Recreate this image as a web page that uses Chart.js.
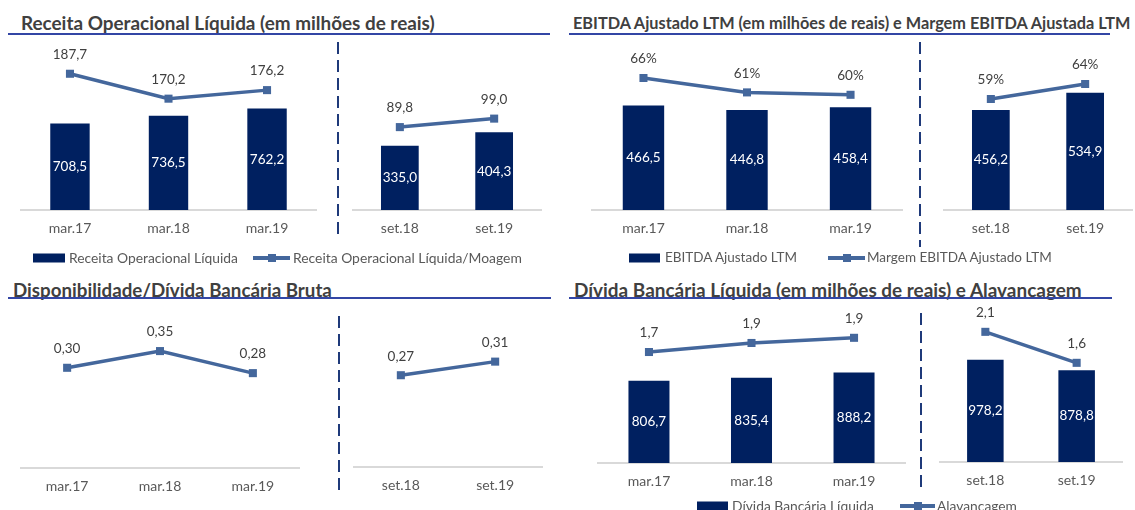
<!DOCTYPE html>
<html lang="pt-BR">
<head>
<meta charset="utf-8">
<title>Indicadores</title>
<script src="https://cdn.jsdelivr.net/npm/chart.js@4.4.1/dist/chart.umd.min.js"></script>
<style>
  html, body { margin: 0; padding: 0; }
  body { width: 1135px; height: 510px; overflow: hidden; background: #fff; position: relative; font-family: Lato, 'Open Sans', sans-serif; }
  .titulo { position: absolute; font-weight: 700; font-size: 19px; line-height: 1; color: #404040; white-space: nowrap; transform: translateY(-50%); }
  .regua { position: absolute; height: 2px; background: #3346a5; }
  .tracejado { position: absolute; width: 2px; background: repeating-linear-gradient(to bottom, #1f3a7a 0 12px, transparent 12px 18px); }
  canvas { position: absolute; }
  .leg { position: absolute; font-size: 14px; line-height: 1; color: #595959; white-space: nowrap; transform: translateY(-50%); }
  .sw { position: absolute; height: 9px; background: #002060; transform: translateY(-50%); }
  .ln { position: absolute; height: 4px; background: #44679c; transform: translateY(-50%); }
  .ln::after { content: ''; position: absolute; left: 50%; top: 50%; width: 8px; height: 8px; margin: -4px 0 0 -4px; background: #44679c; }
</style>
</head>
<body>
<script>
// categorias
const catsMar = ['mar.17', 'mar.18', 'mar.19'];
const catsSet = ['set.18', 'set.19'];

// Receita Operacional Líquida (R$ milhões) e Receita/Moagem
const receitaMar = [708.5, 736.5, 762.2];
const receitaSet = [335.0, 404.3];
const moagemMar = [187.7, 170.2, 176.2];
const moagemSet = [89.8, 99.0];

// EBITDA Ajustado LTM e margem
const ebitdaMar = [466.5, 446.8, 458.4];
const ebitdaSet = [456.2, 534.9];
const margemMar = [0.66, 0.612, 0.604];
const margemSet = [0.59, 0.64];

// Disponibilidade / Dívida Bancária Bruta
const dispMar = [0.30, 0.35, 0.284];
const dispSet = [0.27, 0.31];

// Dívida Bancária Líquida e Alavancagem
const dividaMar = [806.7, 835.4, 888.2];
const dividaSet = [978.2, 878.8];
const alavMar = [1.72, 1.86, 1.94];
const alavSet = [2.1, 1.6];

const titulos = [
  'Receita Operacional Líquida (em milhões de reais)',
  'EBITDA Ajustado LTM (em milhões de reais) e Margem EBITDA Ajustada LTM',
  'Disponibilidade/Dívida Bancária Bruta',
  'Dívida Bancária Líquida (em milhões de reais) e Alavancagem'
];
const nomesReceita = ['Receita Operacional Líquida', 'Receita Operacional Líquida/Moagem'];
const nomesEbitda = ['EBITDA Ajustado LTM', 'Margem EBITDA Ajustado LTM'];
const nomesDisp = ['', 'Disponibilidade/Dívida Bancária Bruta'];
const nomesDivida = ['Dívida Bancária Líquida', 'Alavancagem'];

const AZUL_BARRA = '#002060';
const AZUL_LINHA = '#44679c';
const PAD = 24, EIXO = 40;

const dec1 = v => v.toFixed(1).replace('.', ',');
const dec2 = v => v.toFixed(2).replace('.', ',');
const pct = v => Math.round(v * 100) + '%';

Chart.defaults.font.family = 'Lato';

// rótulos de dados (barras no meio, linha acima do marcador)
const rotulos = {
  id: 'rotulos',
  afterDatasetsDraw(chart) {
    const ctx = chart.ctx;
    const fundo = chart.chartArea.bottom;
    ctx.save();
    ctx.textAlign = 'center';
    ctx.textBaseline = 'middle';
    ctx.font = '13.5px Lato';
    chart.data.datasets.forEach((ds, i) => {
      chart.getDatasetMeta(i).data.forEach((el, j) => {
        const txt = ds.fmt(ds.data[j]);
        if (ds.type === 'bar') {
          ctx.fillStyle = '#ffffff';
          ctx.fillText(txt, el.x, (el.y + Math.min(el.base, fundo)) / 2);
        } else {
          ctx.fillStyle = '#404040';
          ctx.fillText(txt, el.x, el.y - 19);
        }
      });
    });
    ctx.restore();
  }
};

function div(cls, css, txt) {
  const d = document.createElement('div');
  d.className = cls;
  Object.assign(d.style, css);
  if (txt) d.textContent = txt;
  document.body.appendChild(d);
  return d;
}

// ajusta o tamanho da fonte para ocupar a largura medida na imagem
function ajusta(el, largura) {
  const fs = parseFloat(getComputedStyle(el).fontSize);
  el.style.fontSize = (fs * largura / el.getBoundingClientRect().width) + 'px';
}

function grafico(g, labels, barras, linha, fmtBarra, fmtLinha, nomes) {
  const cv = document.createElement('canvas');
  cv.width = g.right - g.left;
  cv.height = PAD + (g.base - g.top) + EIXO;
  cv.style.left = g.left + 'px';
  cv.style.top = (g.top - PAD) + 'px';
  document.body.appendChild(cv);
  const datasets = [];
  if (linha) datasets.push({
    type: 'line', label: nomes[1], data: linha, yAxisID: 'y1', order: 0,
    borderColor: AZUL_LINHA, backgroundColor: AZUL_LINHA, borderWidth: 3.5,
    pointStyle: 'rect', pointRadius: 5.7, pointBorderWidth: 0, tension: 0, fmt: fmtLinha
  });
  if (barras) datasets.push({
    type: 'bar', label: nomes[0], data: barras, yAxisID: 'y', order: 1,
    backgroundColor: AZUL_BARRA, barPercentage: 0.4, categoryPercentage: 1, fmt: fmtBarra
  });
  new Chart(cv, {
    type: 'bar',
    data: { labels: labels, datasets: datasets },
    plugins: [rotulos],
    options: {
      responsive: false,
      animation: false,
      devicePixelRatio: 1,
      layout: { padding: { top: PAD, left: 0, right: 0, bottom: 0 } },
      plugins: { legend: { display: false }, tooltip: { enabled: false } },
      scales: {
        x: {
          offset: true,
          grid: { display: false, drawTicks: false },
          border: { display: true, color: '#d9d9d9', width: 2 },
          ticks: { color: '#595959', font: { size: 14 }, padding: 10, maxRotation: 0, autoSkip: false },
          afterFit: s => { s.height = EIXO; }
        },
        y: { display: false, min: g.yMin || 0, max: g.yMax || 1 },
        y1: { display: false, min: g.y1Min || 0, max: g.y1Max }
      }
    }
  });
}

// títulos e réguas
const posTitulos = [[21, 23, 414], [573, 23, 558], [13, 290, 319], [574, 290, 508]];
titulos.forEach((t, i) => {
  const [x, y, w] = posTitulos[i];
  const el = div('titulo', { left: x + 'px', top: y + 'px' }, t);
  ajusta(el, w);
});
div('regua', { left: '8px', top: '33px', width: '542px' });
div('regua', { left: '569px', top: '33px', width: '541px' });
div('regua', { left: '8px', top: '297px', width: '543px' });
div('regua', { left: '569px', top: '297px', width: '543px' });

// separadores tracejados
div('tracejado', { left: '337px', top: '42px', height: '195px' });
div('tracejado', { left: '919px', top: '42px', height: '205px' });
div('tracejado', { left: '338px', top: '316px', height: '179px' });
div('tracejado', { left: '920px', top: '313px', height: '180px' });

// gráficos
grafico({ left: 15, right: 322, top: 42, base: 210, yMin: 400, yMax: 1000, y1Min: 92, y1Max: 210 },
  catsMar, receitaMar, moagemMar, dec1, dec1, nomesReceita);
grafico({ left: 347, right: 547, top: 42, base: 210, yMax: 875, y1Max: 182 },
  catsSet, receitaSet, moagemSet, dec1, dec1, nomesReceita);
grafico({ left: 586, right: 908, top: 42, base: 210, yMax: 750, y1Min: 0.22, y1Max: 0.78 },
  catsMar, ebitdaMar, margemMar, dec1, pct, nomesEbitda);
grafico({ left: 938, right: 1138, top: 42, base: 210, yMax: 767, y1Min: 0.22, y1Max: 0.78 },
  catsSet, ebitdaSet, margemSet, dec1, pct, nomesEbitda);
grafico({ left: 15, right: 305, top: 312, base: 468, y1Max: 0.467 },
  catsMar, null, dispMar, null, dec2, nomesDisp);
grafico({ left: 348, right: 548, top: 312, base: 467, y1Max: 0.456 },
  catsSet, null, dispSet, null, dec2, nomesDisp);
grafico({ left: 592, right: 911, top: 312, base: 463, yMax: 1480, y1Max: 2.34 },
  catsMar, dividaMar, alavMar, dec1, dec1, nomesDivida);
grafico({ left: 934, right: 1128, top: 312, base: 462, yMax: 1435, y1Max: 2.42 },
  catsSet, dividaSet, alavSet, dec1, dec1, nomesDivida);

// legendas
function legenda(y, sw, txt1, ln, txt2, nomes) {
  div('sw', { left: sw[0] + 'px', top: y + 'px', width: sw[1] + 'px' });
  ajusta(div('leg', { left: txt1[0] + 'px', top: y + 'px' }, nomes[0]), txt1[1]);
  div('ln', { left: ln[0] + 'px', top: y + 'px', width: ln[1] + 'px' });
  ajusta(div('leg', { left: txt2[0] + 'px', top: y + 'px' }, nomes[1]), txt2[1]);
}
legenda(258, [33, 32], [69, 169], [253, 37], [293, 229], nomesReceita);
legenda(258, [629, 31], [665, 132], [828, 37], [867, 185], nomesEbitda);
legenda(506, [697, 31], [732, 142], [900, 35], [937, 80], nomesDivida);
</script>
</body>
</html>
